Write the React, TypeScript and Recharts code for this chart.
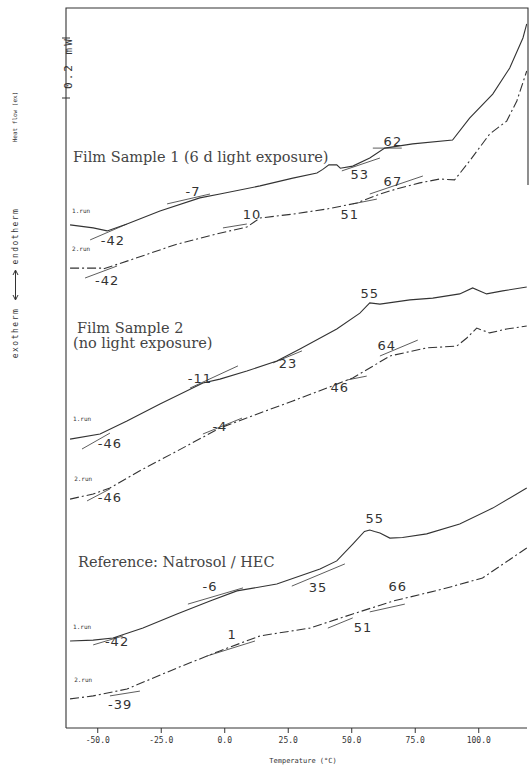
import { LineChart, Line, XAxis, YAxis, ReferenceDot, ReferenceLine } from 'recharts';

// temperature (°C) vs heat flow (mW, arbitrary zero)
const s1run1 = [
  { t: -60.9, v: 1.677 }, { t: -51.8, v: 1.667 }, { t: -46.3, v: 1.657 }, { t: -38.5, v: 1.68 },
  { t: -25.5, v: 1.723 }, { t: -9.8, v: 1.767 }, { t: -1.9, v: 1.78 }, { t: 13.9, v: 1.807 },
  { t: 26.8, v: 1.833 }, { t: 36.3, v: 1.85 }, { t: 38.6, v: 1.862 }, { t: 41, v: 1.877 },
  { t: 44.1, v: 1.877 }, { t: 45.5, v: 1.866 }, { t: 50.4, v: 1.873 }, { t: 57.1, v: 1.9 },
  { t: 63, v: 1.933 }, { t: 74, v: 1.947 }, { t: 89.7, v: 1.96 }, { t: 96.4, v: 2.033 },
  { t: 105.5, v: 2.113 }, { t: 112.2, v: 2.2 }, { t: 117.4, v: 2.3 }, { t: 118.9, v: 2.347 },
];
const s1run2 = [
  { t: -60.9, v: 1.533 }, { t: -48.5, v: 1.533 }, { t: -47.9, v: 1.53 }, { t: -36.1, v: 1.563 },
  { t: -18.8, v: 1.613 }, { t: -3.1, v: 1.647 }, { t: 8.7, v: 1.67 }, { t: 13.9, v: 1.7 },
  { t: 26.8, v: 1.713 }, { t: 40.2, v: 1.73 }, { t: 52, v: 1.75 }, { t: 61.1, v: 1.78 },
  { t: 67.7, v: 1.797 }, { t: 76.8, v: 1.817 }, { t: 84.6, v: 1.83 }, { t: 90.5, v: 1.827 },
  { t: 96.4, v: 1.89 }, { t: 104.3, v: 1.98 }, { t: 111, v: 2.023 }, { t: 115, v: 2.09 },
  { t: 118.9, v: 2.19 },
];
const s2run1 = [
  { t: -60.9, v: 0.963 }, { t: -49.1, v: 0.98 }, { t: -38.5, v: 1.023 }, { t: -25.5, v: 1.08 },
  { t: -8.6, v: 1.15 }, { t: -1.9, v: 1.163 }, { t: 8.7, v: 1.19 }, { t: 20.5, v: 1.223 },
  { t: 29.6, v: 1.263 }, { t: 44.1, v: 1.33 }, { t: 53.2, v: 1.383 }, { t: 57.1, v: 1.417 },
  { t: 61.1, v: 1.413 }, { t: 72.9, v: 1.427 }, { t: 81.9, v: 1.433 }, { t: 92.5, v: 1.447 },
  { t: 97.6, v: 1.467 }, { t: 103.1, v: 1.447 }, { t: 109.4, v: 1.457 }, { t: 118.9, v: 1.47 },
];
const s2run2 = [
  { t: -60.9, v: 0.763 }, { t: -51.8, v: 0.78 }, { t: -45.2, v: 0.8 }, { t: -32.2, v: 0.863 },
  { t: -18.8, v: 0.923 }, { t: -1.9, v: 1.0 }, { t: 13.9, v: 1.05 }, { t: 26.8, v: 1.09 },
  { t: 40.2, v: 1.133 }, { t: 50.4, v: 1.167 }, { t: 57.1, v: 1.2 }, { t: 65, v: 1.24 },
  { t: 79.5, v: 1.267 }, { t: 91.3, v: 1.273 }, { t: 95.3, v: 1.3 }, { t: 99.2, v: 1.333 },
  { t: 104.3, v: 1.317 }, { t: 111, v: 1.33 }, { t: 118.9, v: 1.34 },
];
const refRun1 = [
  { t: -60.9, v: 0.29 }, { t: -51.8, v: 0.293 }, { t: -44, v: 0.3 }, { t: -32.2, v: 0.333 },
  { t: -18.8, v: 0.38 }, { t: -5.8, v: 0.423 }, { t: 4.8, v: 0.457 }, { t: 20.5, v: 0.48 },
  { t: 37.5, v: 0.53 }, { t: 44.1, v: 0.557 }, { t: 50.4, v: 0.613 }, { t: 55, v: 0.655 },
  { t: 57.1, v: 0.66 }, { t: 59, v: 0.655 }, { t: 61.1, v: 0.65 }, { t: 65, v: 0.633 },
  { t: 70, v: 0.635 }, { t: 79.5, v: 0.647 }, { t: 92.5, v: 0.68 }, { t: 105.5, v: 0.733 },
  { t: 118.9, v: 0.8 },
];
const refRun2 = [
  { t: -60.9, v: 0.097 }, { t: -51.8, v: 0.107 }, { t: -38.5, v: 0.13 }, { t: -18.8, v: 0.2 },
  { t: -1.9, v: 0.257 }, { t: 13.9, v: 0.307 }, { t: 33.5, v: 0.333 }, { t: 50.4, v: 0.38 },
  { t: 66.2, v: 0.423 }, { t: 85.8, v: 0.463 }, { t: 101.5, v: 0.5 }, { t: 118.9, v: 0.6 },
];

// onset / peak construction lines [t1, v1, t2, v2]
const tangents = [
  [-53, 1.627, -38.5, 1.68], [-22.7, 1.747, -5.8, 1.78], [58.3, 1.933, 69.7, 1.933],
  [46.1, 1.857, 61.1, 1.9], [57.1, 1.78, 78, 1.84], [50.4, 1.747, 59.9, 1.763],
  [-0.7, 1.667, 8.7, 1.68], [-55, 1.5, -42.4, 1.54],
  [-56.2, 0.93, -45.2, 0.983], [-13.7, 1.133, 5.2, 1.207], [19, 1.217, 30.4, 1.257],
  [61.1, 1.24, 76, 1.293], [48.1, 1.16, 55.9, 1.173], [-8.6, 0.98, 6.8, 1.033],
  [-54.2, 0.757, -45.2, 0.797],
  [-51.8, 0.277, -40, 0.307], [-14.5, 0.413, 7.2, 0.467], [26.4, 0.473, 47.3, 0.547],
  [57.1, 0.387, 70.9, 0.413], [40.6, 0.333, 50.4, 0.367], [-7, 0.24, 11.9, 0.29],
  [-45.2, 0.107, -33.4, 0.123],
];

// transition temperatures written next to the curves
const onsetLabels = [
  { t: 66.2, v: 1.957, text: '62' }, { t: -12.5, v: 1.79, text: '-7' },
  { t: 53.2, v: 1.847, text: '53' }, { t: 66.2, v: 1.823, text: '67' },
  { t: 10.7, v: 1.713, text: '10' }, { t: 49.2, v: 1.713, text: '51' },
  { t: -44, v: 1.627, text: '-42' }, { t: -46.3, v: 1.493, text: '-42' },
  { t: 57.1, v: 1.45, text: '55' }, { t: 24.9, v: 1.217, text: '23' },
  { t: -9.8, v: 1.167, text: '-11' }, { t: 63.8, v: 1.277, text: '64' },
  { t: 45.3, v: 1.137, text: '46' }, { t: -1.9, v: 1.007, text: '-4' },
  { t: -45.2, v: 0.95, text: '-46' }, { t: -45.2, v: 0.77, text: '-46' },
  { t: 59.1, v: 0.7, text: '55' }, { t: -5.8, v: 0.473, text: '-6' },
  { t: 36.7, v: 0.47, text: '35' }, { t: 68.1, v: 0.473, text: '66' },
  { t: 2.9, v: 0.313, text: '1' }, { t: 54.4, v: 0.337, text: '51' },
  { t: -42.4, v: 0.29, text: '-42' }, { t: -41.2, v: 0.08, text: '-39' },
];

const runLabels = [
  { t: -60.1, v: 1.723, text: '1.run' }, { t: -60.1, v: 1.597, text: '2.run' },
  { t: -59.7, v: 1.03, text: '1.run' }, { t: -59.3, v: 0.83, text: '2.run' },
  { t: -59.7, v: 0.337, text: '1.run' }, { t: -59.3, v: 0.16, text: '2.run' },
];

const tempTicks = [-50, -25, 0, 25, 50, 75, 100];

const ink = '#333';
const dashDot = '9 3 2 3';
const serif = '"DejaVu Serif", serif';
const mono = '"DejaVu Sans Mono", monospace';

const App = () => {
  return (
    <div style={{ position: 'absolute', left: 0, top: 0, width: 531, height: 768, background: '#fff' }}>
      <LineChart width={531} height={768} margin={{ top: 8, right: 4, left: 66, bottom: 0 }}>
        <XAxis
          type="number"
          dataKey="t"
          domain={[-62.5, 119]}
          ticks={tempTicks}
          allowDataOverflow
          height={40}
          tickFormatter={(v: number) => v.toFixed(1)}
          tick={{ fontSize: 8, fontFamily: mono, fill: ink }}
          tickSize={5}
          tickMargin={4}
          stroke={ink}
        />
        <YAxis type="number" domain={[0, 2.4]} hide allowDataOverflow />

        {tangents.map((s, i) => (
          <ReferenceLine
            key={`tg-${i}`}
            segment={[{ x: s[0], y: s[1] }, { x: s[2], y: s[3] }]}
            stroke={ink}
            strokeWidth={0.8}
            ifOverflow="visible"
          />
        ))}

        <Line data={s1run1} dataKey="v" type="linear" stroke={ink} strokeWidth={1.1} dot={false} isAnimationActive={false} />
        <Line data={s1run2} dataKey="v" type="linear" stroke={ink} strokeWidth={1.1} strokeDasharray={dashDot} dot={false} isAnimationActive={false} />
        <Line data={s2run1} dataKey="v" type="linear" stroke={ink} strokeWidth={1.1} dot={false} isAnimationActive={false} />
        <Line data={s2run2} dataKey="v" type="linear" stroke={ink} strokeWidth={1.1} strokeDasharray={dashDot} dot={false} isAnimationActive={false} />
        <Line data={refRun1} dataKey="v" type="linear" stroke={ink} strokeWidth={1.1} dot={false} isAnimationActive={false} />
        <Line data={refRun2} dataKey="v" type="linear" stroke={ink} strokeWidth={1.1} strokeDasharray={dashDot} dot={false} isAnimationActive={false} />

        {onsetLabels.map((l, i) => (
          <ReferenceDot
            key={`ol-${i}`}
            x={l.t}
            y={l.v}
            r={0}
            fill="none"
            stroke="none"
            ifOverflow="visible"
            label={{ value: l.text, position: 'center', fontSize: 13, fontFamily: '"DejaVu Sans", sans-serif', fill: ink, letterSpacing: 1 }}
          />
        ))}
        {runLabels.map((l, i) => (
          <ReferenceDot
            key={`rl-${i}`}
            x={l.t}
            y={l.v}
            r={0}
            fill="none"
            stroke="none"
            ifOverflow="visible"
            label={{ value: l.text, position: 'right', offset: 0, fontSize: 6, fontFamily: mono, fill: ink }}
          />
        ))}
      </LineChart>

      <svg width={531} height={768} style={{ position: 'absolute', left: 0, top: 0, pointerEvents: 'none' }}>
        {/* frame */}
        <polyline points="66,728 66,8 528,8 528,185" fill="none" stroke={ink} strokeWidth={1.1} />
        {/* scale bar */}
        <line x1={62} y1={38} x2={70} y2={38} stroke={ink} strokeWidth={1} />
        <line x1={62} y1={98} x2={70} y2={98} stroke={ink} strokeWidth={1} />
        <text x={72} y={63} transform="rotate(-90 72 63)" textAnchor="middle" fontSize={11} letterSpacing={2} fontFamily={mono} fill={ink}>
          0.2 mW
        </text>
        {/* y axis captions */}
        <text x={17} y={117} transform="rotate(-90 17 117)" textAnchor="middle" fontSize={6} fontFamily={mono} fill={ink}>
          Heat flow (ex)
        </text>
        <text x={18} y={236} transform="rotate(-90 18 236)" textAnchor="middle" fontSize={8} letterSpacing={1.5} fontFamily={mono} fill={ink}>
          endotherm
        </text>
        <line x1={15.5} y1={271} x2={15.5} y2={299} stroke={ink} strokeWidth={1} />
        <polyline points="13,275 15.5,270 18,275" fill="none" stroke={ink} strokeWidth={1} />
        <polyline points="13,295 15.5,300 18,295" fill="none" stroke={ink} strokeWidth={1} />
        <text x={18} y={333} transform="rotate(-90 18 333)" textAnchor="middle" fontSize={8} letterSpacing={1.5} fontFamily={mono} fill={ink}>
          exotherm
        </text>
        <text x={303} y={763} textAnchor="middle" fontSize={7} fontFamily={mono} fill={ink}>
          Temperature (°C)
        </text>
        {/* sample titles */}
        <text x={73} y={162} fontSize={14.5} fontFamily={serif} fill="#444">Film Sample 1 (6 d light exposure)</text>
        <text x={77} y={333} fontSize={14.5} fontFamily={serif} fill="#444">Film Sample 2</text>
        <text x={73} y={348} fontSize={14.5} fontFamily={serif} fill="#444">(no light exposure)</text>
        <text x={78} y={567} fontSize={14.5} fontFamily={serif} fill="#444">Reference: Natrosol / HEC</text>
      </svg>
    </div>
  );
};

export default App;
